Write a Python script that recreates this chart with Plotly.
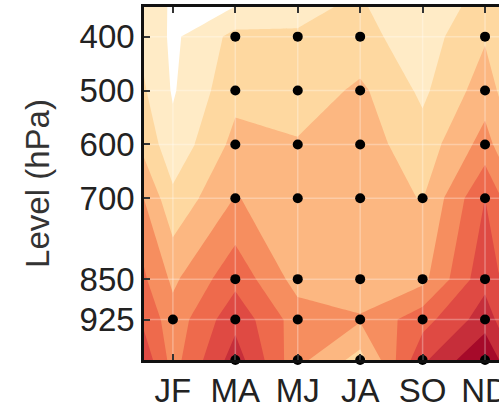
import plotly.graph_objects as go

# ---- data -------------------------------------------------------------
months = ["JF", "MA", "MJ", "JA", "SO", "ND"]
levels = [300, 400, 500, 600, 700, 850, 925, 1000]
tick_levels = [400, 500, 600, 700, 850, 925]

# field values per month column, ordered like `levels`
JF = [0.89, 0.80, 0.90, 1.30, 2.25, 3.80, 4.40, 4.60]
MA = [0.00, 2.30, 2.70, 3.30, 4.05, 5.70, 6.70, 7.50]
MJ = [0.93, 2.20, 2.40, 3.10, 3.50, 3.60, 4.50, 4.30]
JA = [1.94, 2.30, 3.20, 3.50, 3.50, 3.40, 4.10, 2.60]
SO = [1.14, 1.50, 1.80, 2.40, 2.95, 3.70, 5.60, 6.80]
ND = [2.17, 2.90, 3.50, 4.40, 6.00, 6.70, 7.50, 9.00]

# significance dots: months flagged at each level
dots = {
    400: ["MA", "MJ", "JA", "ND"],
    500: ["MA", "MJ", "JA", "ND"],
    600: ["MA", "MJ", "JA", "ND"],
    700: ["MA", "MJ", "JA", "SO", "ND"],
    850: ["MA", "MJ", "JA", "SO", "ND"],
    925: ["JF", "MA", "MJ", "JA", "SO", "ND"],
    1000: ["MA", "MJ", "JA", "SO", "ND"],
}

band_colors = ["#FFFFFF", "#FFEBC6", "#FED8A0", "#FCB781", "#F68E5F",
               "#EE6A4C", "#DF4A43", "#C62E3A", "#A60A2A"]

# ---- build -------------------------------------------------------------
cols = [JF, MA, MJ, JA, SO, ND]
# cyclic padding (ND before JF, JF after ND)
xs = [-1] + list(range(len(months))) + [len(months)]
cols_pad = [ND] + cols + [JF]
z = [[c[i] for c in cols_pad] for i in range(len(levels))]

n = len(band_colors) - 1
cscale = []
for i, c in enumerate(band_colors):
    cscale.append([i / n, c])
    cscale.append([min((i + 1) / n, 1.0), c])

xr = [-0.463, 5.224]
yr = [1000, 345]

fig = go.Figure()
fig.add_trace(go.Contour(
    x=xs, y=levels, z=z,
    colorscale=cscale, showscale=False,
    contours=dict(start=1, end=8, size=1, coloring="fill"),
    line=dict(width=0, smoothing=0),
    hoverinfo="skip",
))

# faint grid drawn above the fill
gx, gy = [], []
for i in range(len(months)):
    gx += [i, i, None]
    gy += [yr[0], yr[1], None]
for lv in tick_levels:
    gx += [xr[0], xr[1], None]
    gy += [lv, lv, None]
fig.add_trace(go.Scatter(x=gx, y=gy, mode="lines",
                         line=dict(color="rgba(255,255,255,0.3)", width=1.5),
                         hoverinfo="skip", showlegend=False))

dx, dy = [], []
for lv, ms in dots.items():
    for m in ms:
        dx.append(months.index(m))
        dy.append(lv)
fig.add_trace(go.Scatter(x=dx, y=dy, mode="markers",
                         marker=dict(color="black", size=10),
                         cliponaxis=False, showlegend=False, hoverinfo="skip"))

font = dict(family="Liberation Sans, Arial, sans-serif", size=33, color="#222222")
fig.update_xaxes(range=xr, tickvals=list(range(len(months))), ticktext=months,
                 ticks="inside", ticklen=6, tickwidth=2, tickcolor="#333333",
                 showline=True, linewidth=2.5, linecolor="#111111", mirror="ticks",
                 showgrid=False, zeroline=False, tickfont=font, automargin=False,
                 ticklabeloverflow="allow")
fig.update_yaxes(range=yr, tickvals=tick_levels,
                 ticks="inside", ticklen=6, tickwidth=2, tickcolor="#333333",
                 showline=True, linewidth=2.5, linecolor="#111111",
                 showgrid=False, zeroline=False, tickfont=font, automargin=False,
                 ticklabeloverflow="allow",
                 title=dict(text="Level (hPa)", font=dict(family=font["family"], size=33, color="#333333"),
                            standoff=21))
fig.update_layout(width=499, height=404, autosize=False,
                  margin=dict(l=144, r=0, t=7, b=44),
                  plot_bgcolor="white", paper_bgcolor="white",
                  showlegend=False)
fig.write_html("out.html", config={"displayModeBar": False},
               post_script="document.body.style.margin='0';document.body.style.overflow='hidden';")
